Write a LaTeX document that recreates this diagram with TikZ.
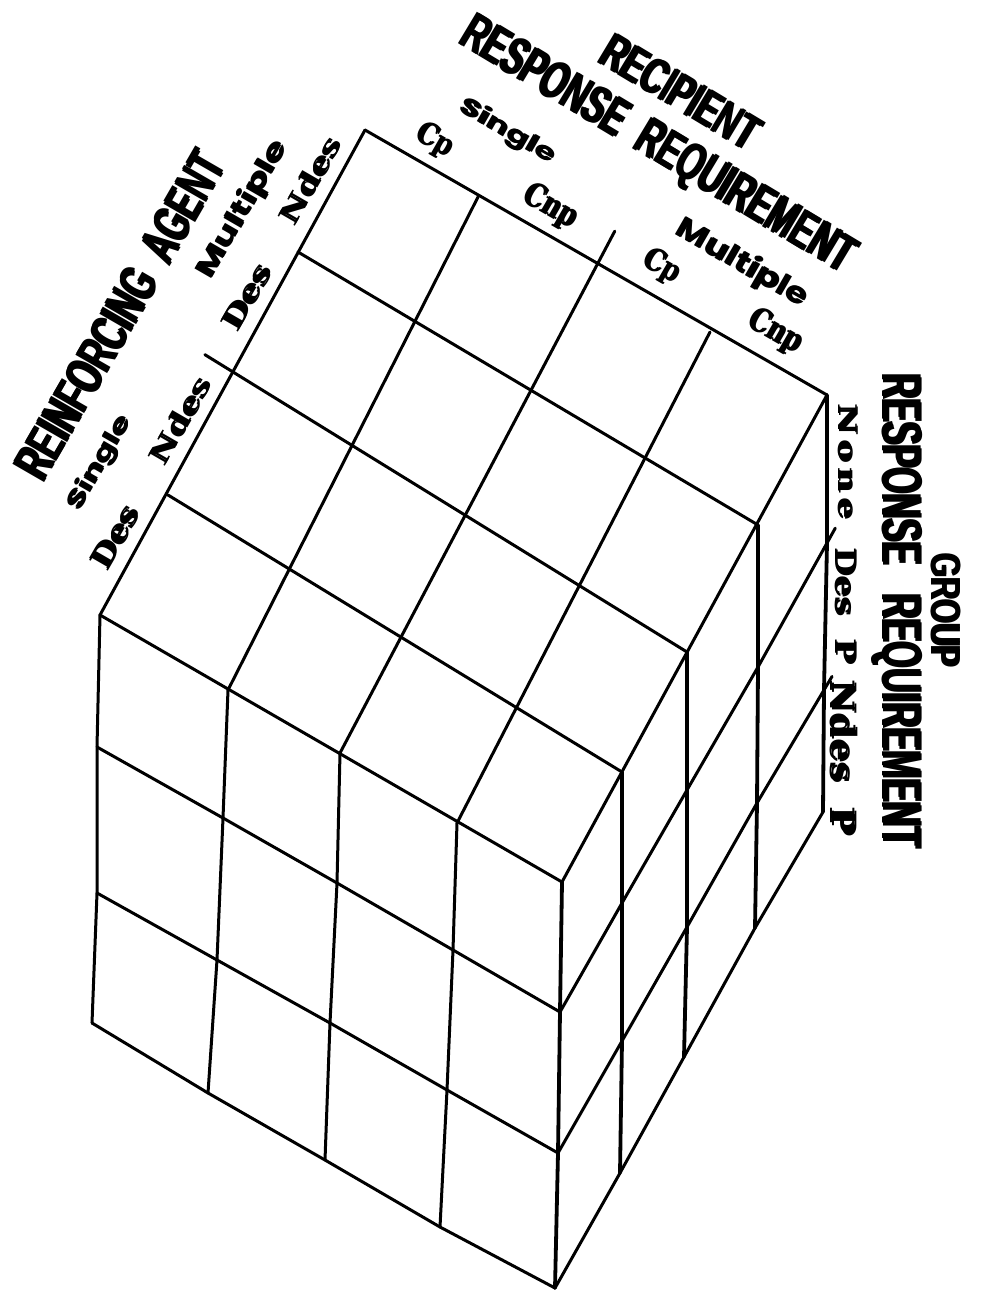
\documentclass[tikz,border=0pt]{standalone}
\usepackage{fontspec}
\usepackage{graphicx}
\usetikzlibrary{calc}
\setmainfont{Liberation Sans}
\newfontfamily\hdr{Liberation Sans}
\newfontfamily\geo{Poppins}
\newfontfamily\slab{DejaVu Serif}
\newlength\pxu
\setlength\pxu{0.5pt}
% print a text twice with a small shift, to make its strokes heavier
\newcommand\fatd[3]{\leavevmode\rlap{#3}\kern#1\relax\raisebox{#2}{#3}}
\newcommand\capbox[3]{\resizebox{#1\pxu}{#2\pxu}{\hdr\bfseries\fatd{0.8pt}{0.15pt}{#3}}}
\newcommand\geobox[3]{\resizebox*{#1\pxu}{#2\pxu}{\geo\bfseries\fatd{0.4pt}{0.25pt}{#3}}}
\newcommand\slabbox[3]{\resizebox*{#1\pxu}{#2\pxu}{\slab\bfseries\fatd{0.6pt}{0.35pt}{#3}}}
\begin{document}
\begin{tikzpicture}[x=0.5pt,y=-0.5pt,
  gridline/.style={line width=1.5pt,line join=round,line cap=round},
  heavyline/.style={line width=1.9pt,line join=round,line cap=round},
  lbl/.style={inner sep=0pt,outer sep=0pt,anchor=center}]
\useasboundingbox (0,0) rectangle (980,1290);
% ---- top face boundary points
\foreach \x/\y [count=\k from 0] in {365/130,478/197,598/263,710/332,827/395} \coordinate (b\k) at (\x,\y);
\foreach \x/\y [count=\k from 0] in {365/130,298/252,233/372,168/495,100/615} \coordinate (l\k) at (\x,\y);
\foreach \x/\y [count=\k from 0] in {100/615,228/690,340/753,457/823,562/882} \coordinate (f\k) at (\x,\y);
\foreach \x/\y [count=\k from 0] in {827/395,758/525,687/652,622/772,562/882} \coordinate (r\k) at (\x,\y);
% ---- left face rows
\foreach \x/\y [count=\k from 0] in {97/747,223/818,337/883,453/950,560/1012} \coordinate (la\k) at (\x,\y);
\foreach \x/\y [count=\k from 0] in {97/893,217/960,330/1023,447/1090,558/1153} \coordinate (lb\k) at (\x,\y);
\foreach \x/\y [count=\k from 0] in {92/1023,208/1093,325/1160,440/1227,555/1288} \coordinate (lc\k) at (\x,\y);
% ---- right face rows
\foreach \x/\y [count=\k from 0] in {827/543,758/667,687/790,622/903,560/1012} \coordinate (ra\k) at (\x,\y);
\foreach \x/\y [count=\k from 0] in {824/690,757/803,687/927,622/1041,558/1153} \coordinate (rb\k) at (\x,\y);
\foreach \x/\y [count=\k from 0] in {823/812,755/928,684/1057,620/1173,555/1288} \coordinate (rc\k) at (\x,\y);
% ---- top face
\foreach \k in {0,...,4} \draw[gridline] (b\k) -- (f\k);
\foreach \k in {0,...,4} \draw[gridline] (l\k) -- (r\k);
% ---- left face
\draw[gridline] (la0) -- (la1) -- (la2) -- (la3) -- (la4);
\draw[gridline] (lb0) -- (lb1) -- (lb2) -- (lb3) -- (lb4);
\draw[gridline] (lc0) -- (lc1) -- (lc2) -- (lc3) -- (lc4);
\foreach \k in {0,...,3} \draw[gridline] (f\k) -- (la\k) -- (lb\k) -- (lc\k);
% ---- right face
\draw[gridline] (ra0) -- (ra1) -- (ra2) -- (ra3) -- (ra4);
\draw[gridline] (rb0) -- (rb1) -- (rb2) -- (rb3) -- (rb4);
\draw[gridline] (rc0) -- (rc1) -- (rc2) -- (rc3) -- (rc4);
\foreach \k in {0,...,3} \draw[heavyline] (r\k) -- (ra\k) -- (rb\k) -- (rc\k);
\draw[heavyline] (r4) -- (ra4) -- (rb4) -- (rc4);
% ---- ticks beyond the edges
\coordinate (tkl) at ($(l2)!-0.062!(r2)$);
\coordinate (tkt) at ($(b2)!-0.065!(f2)$);
\coordinate (tkr1) at ($(ra0)!-0.12!(ra1)$);
\coordinate (tkr2) at ($(rb0)!-0.12!(rb1)$);
\draw[gridline] (l2) -- (tkl);
\draw[gridline] (b2) -- (tkt);
\draw[gridline] (ra0) -- (tkr1);
\draw[gridline] (rb0) -- (tkr2);
% ---- left labels
\node[lbl,rotate=60] (ag) at (120,315) {\capbox{370}{38}{REINFORCING\ \ AGENT}};
\node[lbl,rotate=60] (ags) at (100,463) {\geobox{106}{26}{Single}};
\node[lbl,rotate=60] (agm) at (243,210) {\geobox{155}{30}{Multiple}};
\node[lbl,rotate=60] (ad1) at (115,537) {\slabbox{70}{23}{Des}};
\node[lbl,rotate=60] (an1) at (180,420) {\slabbox{97}{22}{Ndes}};
\node[lbl,rotate=60] (ad2) at (247,297) {\slabbox{73}{22}{Des}};
\node[lbl,rotate=60] (an2) at (310,180) {\slabbox{97}{22}{Ndes}};
% ---- top labels
\node[lbl,rotate=-31] (rc) at (681,92) {\capbox{178}{36}{RECIPIENT}};
\node[lbl,rotate=-31] (rr) at (657,147) {\capbox{452}{38}{RESPONSE\ \ REQUIREMENT}};
\node[lbl,rotate=-30] (rs) at (508,132) {\geobox{108}{26}{Single}};
\node[lbl,rotate=-30] (rm) at (742,264) {\geobox{149}{32}{Multiple}};
\node[lbl,rotate=-30] (rc1) at (435,141) {\slabbox{40}{30}{Cp}};
\node[lbl,rotate=-30] (rn1) at (551,207) {\slabbox{59}{32}{Cnp}};
\node[lbl,rotate=-30] (rc2) at (662,267) {\slabbox{40}{30}{Cp}};
\node[lbl,rotate=-30] (rn2) at (776,332) {\slabbox{59}{32}{Cnp}};
% ---- right labels
\node[lbl,rotate=-90] (gg) at (946,610) {\capbox{116}{30}{GROUP}};
\node[lbl,rotate=-90] (gr) at (897,611) {\capbox{477}{40}{RESPONSE\ \ \ REQUIREMENT}};
\node[lbl,rotate=-90] (gn) at (848,462) {\slabbox{117}{20}{N\,o\,n\,e}};
\node[lbl,rotate=-90] (gd) at (846,606) {\slabbox{118}{22}{Des\ \ P}};
\node[lbl,rotate=-90] (gx) at (844,758) {\slabbox{157}{27}{Ndes\ \ P}};
\end{tikzpicture}
\end{document}
